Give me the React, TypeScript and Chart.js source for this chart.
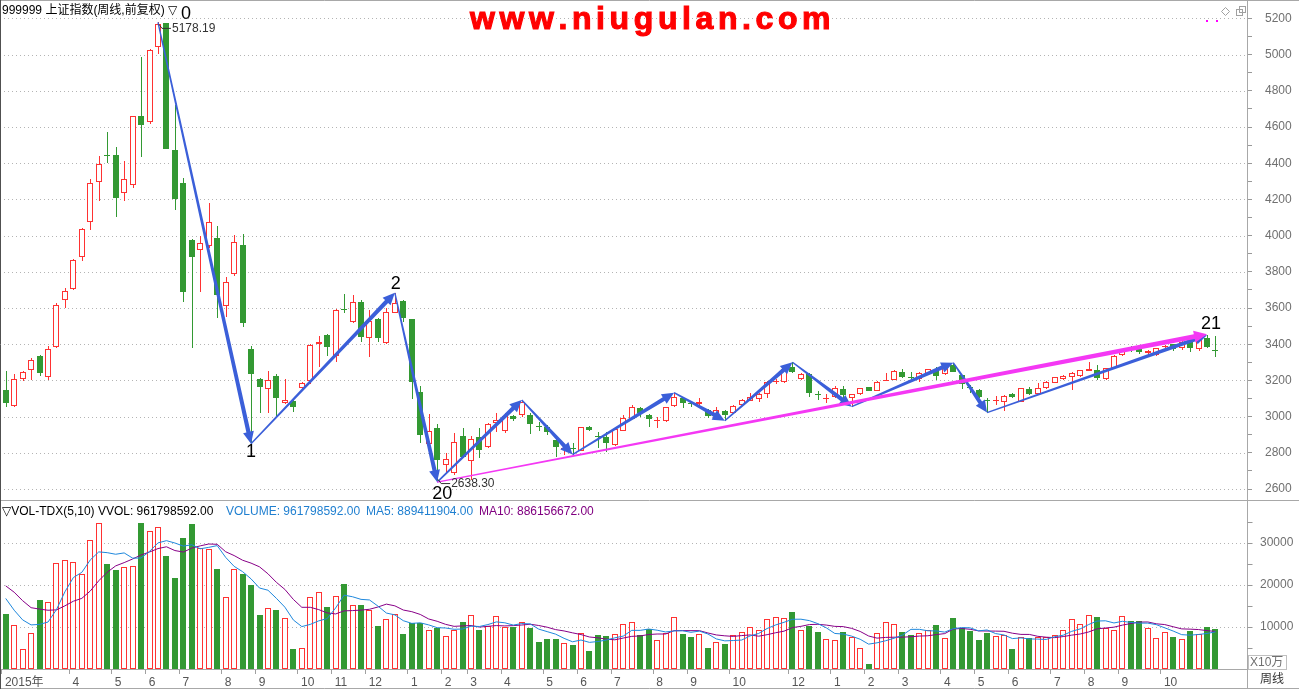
import React, { useEffect, useRef } from 'react';
import { Chart, registerables } from 'chart.js';

Chart.register(...registerables);

const FONT = "'Liberation Sans', 'DejaVu Sans', 'Noto Sans CJK SC', sans-serif";

// Weekly candles (Feb 2015 .. Nov 2017), index 0..143
const opens = [
  3147, 3060, 3206, 3256, 3335, 3220, 3385, 3643, 3707, 3880,
  4073, 4298, 4443, 4444, 4234, 4278, 4659, 4629, 5044, 5173,
  4473, 4292, 3976, 3921, 3945, 3987, 3613, 3786, 3948, 3373,
  3208, 3151, 3226, 3073, 3086, 3156, 3198, 3400, 3451, 3337,
  3593, 3521, 3631, 3433, 3537, 3405, 3571, 3640, 3537, 3138,
  2847, 2935, 2733, 2690, 2893, 2755, 2886, 2830, 2963, 2920,
  3003, 3007, 3010, 2950, 2941, 2871, 2823, 2826, 2812, 2941,
  2895, 2886, 2843, 2922, 2988, 3046, 3009, 2978, 2976, 3059,
  3104, 3072, 3070, 3036, 3005, 3031, 3018, 3064, 3088, 3096,
  3123, 3192, 3190, 3276, 3206, 3235, 3125, 3100, 3110, 3151,
  3104, 3125, 3162, 3143, 3199, 3202, 3248, 3220, 3206, 3234,
  3257, 3234, 3285, 3230, 3165, 3147, 3094, 3086, 3082, 3125,
  3082, 3151, 3123, 3156, 3187, 3206, 3217, 3226, 3252, 3257,
  3206, 3267, 3340, 3378, 3377, 3350, 3340, 3383, 3399, 3377,
  3414, 3372, 3436, 3362,
];
const highs = [
  3252, 3235, 3254, 3322, 3342, 3390, 3628, 3709, 3870, 4040,
  4313, 4441, 4571, 4489, 4411, 4660, 4987, 5031, 5178, 5176,
  4722, 4320, 3980, 4000, 4178, 4053, 3773, 4003, 4007, 3392,
  3215, 3252, 3237, 3208, 3097, 3193, 3400, 3445, 3456, 3592,
  3677, 3672, 3643, 3589, 3545, 3598, 3684, 3645, 3539, 3169,
  3013, 2959, 2797, 2908, 2935, 2893, 2937, 2962, 3021, 3018,
  3010, 3092, 3020, 2970, 2955, 2880, 2840, 2852, 2941, 2950,
  2913, 2913, 2935, 3007, 3064, 3055, 3012, 2996, 3052, 3132,
  3110, 3080, 3101, 3040, 3051, 3035, 3062, 3095, 3132, 3130,
  3196, 3210, 3265, 3300, 3240, 3243, 3143, 3123, 3169, 3168,
  3125, 3160, 3165, 3197, 3239, 3257, 3261, 3245, 3245, 3265,
  3276, 3280, 3298, 3232, 3174, 3150, 3101, 3114, 3118, 3128,
  3160, 3165, 3184, 3196, 3220, 3228, 3248, 3260, 3300, 3285,
  3270, 3338, 3375, 3391, 3385, 3368, 3380, 3395, 3400, 3418,
  3420, 3432, 3450, 3445,
];
const lows = [
  3055, 3055, 3198, 3202, 3226, 3204, 3381, 3602, 3700, 3860,
  4031, 4193, 4400, 4104, 4193, 4265, 4436, 4617, 5002, 4476,
  4141, 3635, 3377, 3690, 3930, 3543, 3552, 3778, 3493, 2850,
  3022, 3018, 2990, 3070, 3027, 3148, 3182, 3272, 3335, 3303,
  3574, 3515, 3414, 3331, 3414, 3400, 3571, 3520, 3100, 2852,
  2843, 2638, 2687, 2680, 2770, 2650, 2770, 2825, 2915, 2911,
  2975, 3000, 2902, 2920, 2900, 2778, 2788, 2788, 2808, 2918,
  2825, 2807, 2835, 2918, 2985, 3000, 2944, 2935, 2970, 3055,
  3046, 3051, 3065, 2995, 2998, 2977, 3016, 3060, 3085, 3082,
  3101, 3180, 3188, 3240, 3200, 3110, 3092, 3073, 3105, 3086,
  3055, 3120, 3140, 3140, 3195, 3200, 3215, 3202, 3193, 3230,
  3202, 3230, 3245, 3151, 3132, 3104, 3022, 3064, 3033, 3105,
  3080, 3122, 3120, 3150, 3185, 3200, 3147, 3220, 3250, 3202,
  3204, 3265, 3335, 3355, 3345, 3340, 3335, 3370, 3360, 3370,
  3355, 3365, 3380, 3331,
];
const closes = [
  3077, 3206, 3245, 3313, 3243, 3373, 3615, 3692, 3865, 4036,
  4289, 4394, 4441, 4209, 4311, 4659, 4613, 5024, 5167, 4480,
  4200, 3690, 3883, 3957, 4073, 3672, 3742, 3963, 3515, 3235,
  3165, 3202, 3101, 3090, 3055, 3186, 3396, 3411, 3386, 3589,
  3589, 3631, 3441, 3528, 3436, 3576, 3626, 3543, 3189, 2900,
  2920, 2760, 2766, 2858, 2775, 2876, 2815, 2959, 2979, 3003,
  2988, 3081, 2957, 2945, 2917, 2830, 2826, 2822, 2941, 2926,
  2890, 2856, 2930, 2991, 3055, 3019, 2985, 2982, 3051, 3110,
  3073, 3068, 3082, 3003, 3036, 3009, 3060, 3092, 3107, 3125,
  3193, 3195, 3261, 3248, 3235, 3129, 3120, 3104, 3156, 3119,
  3123, 3156, 3143, 3193, 3202, 3254, 3220, 3214, 3239, 3263,
  3226, 3276, 3248, 3178, 3158, 3107, 3086, 3092, 3114, 3110,
  3156, 3125, 3156, 3193, 3217, 3224, 3239, 3257, 3263, 3212,
  3267, 3335, 3372, 3372, 3359, 3360, 3377, 3392, 3372, 3414,
  3377, 3429, 3386, 3360,
];
// Weekly volume in units of 10^5 shares (X10万)
const volumes = [
  13100, 10400, 4700, 8500, 16400, 15900, 25200, 25900, 25500, 22600,
  30700, 34700, 25000, 23600, 24200, 24500, 34800, 32900, 33700, 26900,
  21700, 31100, 34500, 28900, 28600, 23800, 17100, 23800, 22600, 20000,
  12900, 14500, 14100, 12100, 4800, 5000, 17100, 18300, 14800, 17500,
  20200, 15200, 15200, 14100, 10200, 11900, 13000, 8300, 10900, 10900,
  9400, 9700, 7900, 9400, 11200, 12800, 9300, 10200, 12600, 10100,
  10100, 11100, 9800, 6400, 7100, 7100, 6100, 5700, 8500, 4300,
  8100, 7900, 8300, 10600, 11100, 8100, 9500, 6900, 8500, 12300,
  8300, 7700, 8300, 5100, 6400, 6000, 8100, 8900, 10000, 9300,
  11900, 12300, 12100, 13600, 9400, 10200, 8700, 7100, 6900, 8700,
  7700, 5000, 1300, 8500, 11100, 10700, 8800, 8100, 8500, 9400,
  10500, 7400, 12200, 9800, 9100, 6900, 8500, 7900, 8100, 4800,
  7700, 7300, 7700, 7700, 8100, 9400, 11900, 10600, 12900, 12300,
  9700, 9300, 12600, 11500, 11500, 9700, 7500, 8800, 7700, 7200,
  9100, 8300, 10000, 9618,
];
// Weeks just before the visible window (only feed the MA5 / MA10 starting values)
const volumesBeforeWindow = [25600, 24800, 25200, 19800, 18600, 24400, 16200, 14500, 15800];

const monthTickIdx = [0, 8, 13, 17, 21, 26, 30, 35, 39, 43, 48, 52, 55, 59, 64, 68, 72, 77, 81, 86, 93, 98, 102, 106, 111, 115, 119, 124, 128, 132, 137];
const monthTickLabels = ['2015年', '4', '5', '6', '7', '8', '9', '10', '11', '12', '1', '2', '3', '4', '5', '6', '7', '8', '9', '10', '12', '1', '2', '3', '4', '5', '6', '7', '8', '9', '10'];
const priceTickLabels = [2600, 2800, 3000, 3200, 3400, 3600, 3800, 4000, 4200, 4400, 4600, 4800, 5000, 5200];
const volumeTickLabels = [10000, 20000, 30000];

// Wave annotation (zigzag) turning points
const zigzagIdx = [18, 29, 46, 51, 61, 67, 79, 85, 93, 100, 112, 116, 142];
const zigzagPrice = [5178, 2850, 3684, 2638, 3092, 2790, 3132, 2977, 3300, 3055, 3298, 3022, 3450];
const trendIdx = [51, 142];
const trendPrice = [2638.3, 3455];
const waveLabels = ['0', '1', '2', '20', '21'];
const waveLabelIdx = [18, 29, 46, 51, 142];
const waveLabelPrice = [5178.19, 2850, 3684, 2638.3, 3450];
const extremeText = ['5178.19', '2638.30'];
const extremeIdx = [18, 51];
const extremePrice = [5178.19, 2638.3];

const UP = '#ff3232';
const DOWN = '#339933';
const X_MIN = -0.5556;
const X_MAX = 146.725;
const P_MIN = 1605.5;
const P_MAX = 5290.7;
const V_MAX = 158810;

function taperArrow(ctx: CanvasRenderingContext2D, x1: number, y1: number, x2: number, y2: number, w0: number, w1: number, headLen: number, headW: number) {
  const dx = x2 - x1, dy = y2 - y1;
  const len = Math.hypot(dx, dy);
  const ux = dx / len, uy = dy / len;
  const nx = -uy, ny = ux;
  const bx = x2 - ux * headLen, by = y2 - uy * headLen;
  ctx.beginPath();
  ctx.moveTo(x1 + nx * w0 / 2, y1 + ny * w0 / 2);
  ctx.lineTo(bx + nx * w1 / 2, by + ny * w1 / 2);
  ctx.lineTo(bx + nx * headW, by + ny * headW);
  ctx.lineTo(x2, y2);
  ctx.lineTo(bx - nx * headW, by - ny * headW);
  ctx.lineTo(bx - nx * w1 / 2, by - ny * w1 / 2);
  ctx.lineTo(x1 - nx * w0 / 2, y1 - ny * w0 / 2);
  ctx.closePath();
  ctx.fill();
}

function line(ctx: CanvasRenderingContext2D, x1: number, y1: number, x2: number, y2: number) {
  ctx.beginPath();
  ctx.moveTo(x1, y1);
  ctx.lineTo(x2, y2);
  ctx.stroke();
}

// Snap bar elements (computed by the library's scales) to whole pixels for crisp candles
const snapPlugin = {
  id: 'snap',
  afterDatasetsUpdate(chart: any) {
    chart.data.datasets.forEach((ds: any, d: number) => {
      if (ds.type !== 'bar') return;
      const meta = chart.getDatasetMeta(d);
      const isWick = ds.label === 'wick';
      meta.data.forEach((el: any) => {
        const c = Math.round(el.x);
        el.x = isWick ? c + 0.5 : c;
        let y = Math.round(el.y);
        const b = Math.round(el.base);
        if (!isWick && y === b) y = b - 1;
        el.y = y;
        el.base = b;
      });
    });
  },
};

const overlayPlugin = {
  id: 'overlay',
  beforeDraw(chart: any) {
    const { ctx, width, height } = chart;
    ctx.save();
    ctx.fillStyle = '#ffffff';
    ctx.fillRect(0, 0, width, height);
    ctx.restore();
  },
  beforeDatasetsDraw(chart: any) {
    const { ctx, chartArea: a, scales } = chart;
    ctx.save();
    ctx.fillStyle = '#b4b4b4';
    const dots = (py: number) => {
      for (let x = a.left + 3; x < a.right - 2; x += 4) ctx.fillRect(x, py, 1, 1);
    };
    priceTickLabels.forEach((v) => dots(Math.round(scales.y.getPixelForValue(v))));
    volumeTickLabels.forEach((v) => dots(Math.round(scales.yv.getPixelForValue(v))));
    ctx.restore();
  },
  afterDraw(chart: any) {
    const { ctx, scales } = chart;
    const px = (i: number) => scales.x.getPixelForValue(i);
    const py = (p: number) => scales.y.getPixelForValue(p);
    const pv = (v: number) => scales.yv.getPixelForValue(v);
    ctx.save();

    // frame
    ctx.lineWidth = 1;
    ctx.strokeStyle = '#a8a8a8';
    line(ctx, 0, 0.5, 1299, 0.5);
    line(ctx, 0, 500.5, 1299, 500.5);
    line(ctx, 0, 688.5, 1299, 688.5);
    line(ctx, 1247.5, 0, 1247.5, 689);
    ctx.strokeStyle = '#505050';
    line(ctx, 0.5, 0, 0.5, 689);

    // volume axis
    ctx.strokeStyle = '#999999';
    for (let v = 5000; v <= 35000; v += 5000) {
      const yy = Math.round(pv(v)) + 0.5;
      line(ctx, 1247.5, yy, 1252.5, yy);
    }
    ctx.fillStyle = '#707070';
    ctx.font = `12px ${FONT}`;
    ctx.textBaseline = 'middle';
    ctx.textAlign = 'left';
    volumeTickLabels.forEach((v) => ctx.fillText(String(v), 1260, pv(v)));

    // X10万 box and 周线
    ctx.strokeStyle = '#c0c0c0';
    ctx.strokeRect(1248.5, 655.5, 38, 14);
    ctx.fillStyle = '#707070';
    ctx.fillText('X10万', 1250, 663);
    ctx.fillStyle = '#333333';
    ctx.fillText('周线', 1260, 680);

    // zigzag arrows
    ctx.fillStyle = '#3b5fd9';
    for (let k = 0; k < zigzagIdx.length - 1; k++) {
      taperArrow(ctx, px(zigzagIdx[k]), py(zigzagPrice[k]), px(zigzagIdx[k + 1]), py(zigzagPrice[k + 1]), 1.4, 4.2, 12, 5.5);
    }
    // trend arrow
    ctx.fillStyle = '#f438f4';
    taperArrow(ctx, px(trendIdx[0]), py(trendPrice[0]), px(trendIdx[1]), py(trendPrice[1]), 1.4, 4.8, 13, 6);

    // wave labels
    const labelOffsets = [[28, -8], [0, 8.5], [1, -9], [5, 11.5], [4, -11]];
    ctx.fillStyle = '#000000';
    ctx.font = `18px ${FONT}`;
    ctx.textAlign = 'center';
    ctx.textBaseline = 'middle';
    waveLabels.forEach((t, k) => {
      ctx.fillText(t, px(waveLabelIdx[k]) + labelOffsets[k][0], py(waveLabelPrice[k]) + labelOffsets[k][1]);
    });

    // extreme value markers
    const extremeDy = [6, 1.5];
    ctx.font = `12px ${FONT}`;
    ctx.textAlign = 'left';
    ctx.strokeStyle = '#333333';
    extremeText.forEach((t, k) => {
      const x0 = px(extremeIdx[k]);
      const y0 = py(extremePrice[k]);
      const ty = y0 + extremeDy[k];
      ctx.beginPath();
      ctx.moveTo(x0 + 1, ty - 4);
      ctx.lineTo(x0 + 4, ty);
      ctx.lineTo(x0 + 13, ty);
      ctx.stroke();
      ctx.fillStyle = '#333333';
      ctx.fillText(t, x0 + 14, ty);
    });

    // headers
    ctx.fillStyle = '#000000';
    ctx.fillText('999999 上证指数(周线,前复权) ▽', 2, 11);
    ctx.fillText('▽VOL-TDX(5,10) VVOL: 961798592.00', 2, 512);
    ctx.fillStyle = '#1f7fd0';
    ctx.fillText('VOLUME: 961798592.00', 226, 512);
    ctx.fillText('MA5: 889411904.00', 366, 512);
    ctx.fillStyle = '#800080';
    ctx.fillText('MA10: 886156672.00', 479, 512);

    // title
    ctx.fillStyle = '#ff0000';
    ctx.strokeStyle = '#ff0000';
    ctx.lineWidth = 1.1;
    ctx.font = `bold 32px ${FONT}`;
    ctx.textBaseline = 'alphabetic';
    const title = 'www.niugulan.com';
    let tx = 470;
    for (const ch of title) {
      ctx.fillText(ch, tx, 29);
      ctx.strokeText(ch, tx, 29);
      tx += ctx.measureText(ch).width + 4.6;
    }

    // small icons top-right
    ctx.lineWidth = 1;
    ctx.fillStyle = '#ff00ff';
    ctx.fillRect(1206, 20, 2, 2);
    ctx.fillRect(1216, 20, 2, 2);
    ctx.strokeStyle = '#a0a0a0';
    ctx.beginPath();
    ctx.moveTo(1225.5, 7.5);
    ctx.lineTo(1229.5, 11.5);
    ctx.lineTo(1225.5, 15.5);
    ctx.lineTo(1221.5, 11.5);
    ctx.closePath();
    ctx.stroke();
    ctx.strokeRect(1236.5, 9.5, 6, 6);
    ctx.strokeRect(1239.5, 6.5, 6, 6);

    ctx.restore();
  },
};

export default function App() {
  const ref = useRef<HTMLCanvasElement>(null);
  useEffect(() => {
    const canvas = ref.current as HTMLCanvasElement;
    const idx = opens.map((_, i) => i);
    const isUp = idx.map((i) => closes[i] >= opens[i]);
    const allVol = [...volumesBeforeWindow, ...volumes];
    const ma = (n: number) =>
      idx.map((i) => {
        const j = i + volumesBeforeWindow.length;
        let s = 0;
        for (let k = j - n + 1; k <= j; k++) s += allVol[k];
        return s / n;
      });
    const ma5 = ma(5);
    const ma10 = ma(10);

    const chart = new Chart(canvas, {
      type: 'bar',
      data: {
        datasets: [
          {
            type: 'bar',
            label: 'wick',
            data: idx.map((i) => ({ x: i, y: [lows[i], highs[i]] })) as any,
            backgroundColor: isUp.map((u) => (u ? UP : DOWN)),
            borderWidth: 0,
            barThickness: 1,
            grouped: false,
            inflateAmount: 0,
            order: 4,
            yAxisID: 'y',
          } as any,
          {
            type: 'bar',
            label: 'body',
            data: idx.map((i) => ({ x: i, y: [opens[i], closes[i]] })) as any,
            backgroundColor: isUp.map((u) => (u ? '#ffffff' : DOWN)),
            borderColor: isUp.map((u) => (u ? UP : DOWN)),
            borderWidth: 1,
            borderSkipped: false,
            barThickness: 6,
            minBarLength: 1,
            grouped: false,
            inflateAmount: 0,
            order: 3,
            yAxisID: 'y',
          } as any,
          {
            type: 'bar',
            label: 'volume',
            data: idx.map((i) => ({ x: i, y: volumes[i] })) as any,
            backgroundColor: isUp.map((u) => (u ? '#ffffff' : DOWN)),
            borderColor: isUp.map((u) => (u ? UP : DOWN)),
            borderWidth: 1,
            borderSkipped: false,
            barThickness: 6,
            grouped: false,
            inflateAmount: 0,
            order: 3,
            yAxisID: 'yv',
          } as any,
          {
            type: 'line',
            label: 'MA5',
            data: idx.map((i) => ({ x: i, y: ma5[i] })) as any,
            borderColor: '#1f88dd',
            borderWidth: 1,
            pointRadius: 0,
            tension: 0,
            order: 1,
            yAxisID: 'yv',
          } as any,
          {
            type: 'line',
            label: 'MA10',
            data: idx.map((i) => ({ x: i, y: ma10[i] })) as any,
            borderColor: '#880088',
            borderWidth: 1,
            pointRadius: 0,
            tension: 0,
            order: 2,
            yAxisID: 'yv',
          } as any,
        ],
      },
      options: {
        responsive: false,
        animation: false,
        devicePixelRatio: 1,
        layout: { padding: { top: 2, left: 1, right: 0, bottom: 0 } },
        plugins: { legend: { display: false }, tooltip: { enabled: false } },
        scales: {
          x: {
            type: 'linear',
            min: X_MIN,
            max: X_MAX,
            offset: false,
            grid: { display: true, drawOnChartArea: false, drawTicks: true, tickLength: 5, color: '#a0a0a0', offset: false },
            border: { display: true, color: '#a8a8a8' },
            ticks: {
              autoSkip: false,
              maxRotation: 0,
              minRotation: 0,
              align: 'start',
              labelOffset: 3,
              padding: 1,
              color: '#555555',
              font: { family: FONT, size: 12 },
              callback: (_v: any, i: number) => monthTickLabels[i] ?? '',
            },
            afterBuildTicks: (s: any) => {
              s.ticks = monthTickIdx.map((i) => ({ value: i - 0.45 }));
            },
            afterFit: (s: any) => {
              s.height = 20;
              s.paddingLeft = 0;
              s.paddingRight = 0;
            },
          } as any,
          y: {
            type: 'linear',
            position: 'right',
            min: P_MIN,
            max: P_MAX,
            grid: { display: true, drawOnChartArea: false, drawTicks: true, tickLength: 5, color: '#999999' },
            border: { display: true, color: '#a8a8a8' },
            ticks: {
              autoSkip: false,
              padding: 13,
              color: '#707070',
              font: { family: FONT, size: 12 },
              callback: (v: any) => (Number(v) % 200 === 0 ? String(v) : ''),
            },
            afterBuildTicks: (s: any) => {
              const t: any[] = [];
              priceTickLabels.forEach((v, k) => {
                t.push({ value: v });
                if (k < priceTickLabels.length - 1) t.push({ value: (v + priceTickLabels[k + 1]) / 2 });
              });
              s.ticks = t;
            },
            afterFit: (s: any) => {
              s.width = 52;
              s.paddingTop = 0;
              s.paddingBottom = 0;
            },
          } as any,
          yv: {
            type: 'linear',
            display: false,
            min: 0,
            max: V_MAX,
          } as any,
        },
      } as any,
      plugins: [snapPlugin as any, overlayPlugin as any],
    });
    return () => chart.destroy();
  }, []);

  return (
    <div style={{ position: 'fixed', left: 0, top: 0, width: 1299, height: 689, background: '#ffffff' }}>
      <canvas ref={ref} width={1299} height={689} style={{ display: 'block', width: 1299, height: 689 }} />
    </div>
  );
}
